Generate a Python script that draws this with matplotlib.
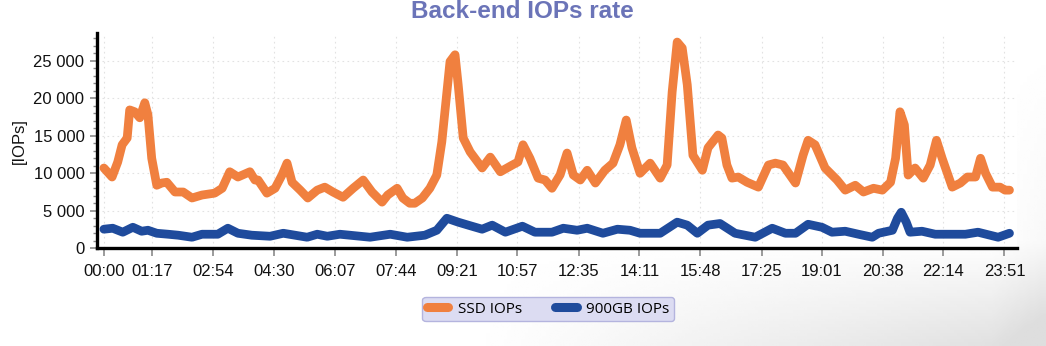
import numpy as np
import matplotlib
matplotlib.use("Agg")
import matplotlib.pyplot as plt
from matplotlib.ticker import FixedLocator, MultipleLocator, FuncFormatter

# minutes since midnight
ssd_minutes = [0, 13, 22, 29, 37, 41, 49, 57, 65, 70, 76, 84, 92, 100, 113, 126, 140,
               156, 176, 188, 200, 213, 232, 240, 245, 259, 272, 283, 291, 299, 312,
               324, 339, 351, 364, 380, 396, 412, 426, 442, 451, 466, 475, 486, 494,
               506, 518, 529, 537, 545, 550, 558, 563, 571, 582, 601, 614, 630, 649,
               658, 666, 677, 690, 701, 712, 725, 736, 746, 757, 768, 781, 796, 809,
               820, 830, 839, 852, 868, 884, 895, 903, 911, 919, 927, 936, 951, 960,
               976, 982, 990, 998, 1008, 1022, 1040, 1056, 1067, 1079, 1099, 1111,
               1119, 1130, 1146, 1165, 1178, 1194, 1207, 1223, 1237, 1250, 1258, 1265,
               1272, 1278, 1289, 1302, 1313, 1323, 1332, 1348, 1361, 1372, 1385, 1393,
               1401, 1412, 1424, 1432, 1439]
ssd_iops = [10700, 9500, 11500, 13800, 14700, 18450, 18200, 17400, 19400, 17800, 12000,
            8400, 8700, 8800, 7500, 7500, 6700, 7100, 7350, 8000, 10200, 9500, 10200,
            9100, 9100, 7350, 8000, 9760, 11350, 8800, 7750, 6700, 7750, 8150, 7500,
            6800, 8000, 9100, 7500, 6150, 7100, 8000, 6700, 6000, 6000, 6700, 8000,
            9760, 14200, 20850, 24900, 25800, 21800, 14700, 12850, 10700, 12150, 10200,
            11100, 11500, 13800, 12000, 9350, 9100, 8000, 9800, 12700, 9760, 9100,
            10400, 8700, 10400, 11350, 13800, 17100, 13400, 10000, 11350, 9350, 11100,
            20850, 27500, 26700, 21800, 12400, 10400, 13400, 15100, 14700, 11100, 9350,
            9500, 8800, 8150, 11100, 11350, 11100, 8700, 12400, 14400, 13800, 10700,
            9100, 7750, 8400, 7500, 8000, 7750, 8800, 12000, 18200, 16450, 9760, 10700,
            9350, 11100, 14400, 12000, 8150, 8700, 9500, 9500, 12000, 10000, 8150, 8150,
            7750, 7750]

hdd_minutes = [0, 14, 30, 46, 60, 70, 84, 102, 118, 140, 156, 181, 197, 213, 235, 264,
               285, 323, 339, 355, 375, 423, 455, 482, 510, 529, 545, 563, 579, 601,
               617, 638, 665, 685, 712, 730, 752, 768, 793, 816, 836, 852, 884, 911,
               927, 943, 960, 979, 1003, 1035, 1062, 1083, 1099, 1119, 1141, 1157,
               1178, 1199, 1221, 1231, 1253, 1261, 1267, 1275, 1281, 1300, 1321, 1369,
               1389, 1421, 1439]
hdd_iops = [2540, 2670, 2140, 2800, 2270, 2400, 2000, 1870, 1740, 1470, 1870, 1870,
            2670, 2000, 1740, 1600, 2000, 1470, 1870, 1600, 1870, 1470, 1870, 1470,
            1740, 2400, 4000, 3480, 3080, 2540, 3080, 2140, 2940, 2140, 2140, 2670,
            2400, 2670, 2000, 2540, 2400, 2000, 2000, 3480, 3080, 2000, 3080, 3300,
            2000, 1470, 2670, 2000, 2000, 3200, 2800, 2140, 2270, 1870, 1470, 2000,
            2400, 4000, 4800, 3480, 2140, 2270, 1870, 1870, 2140, 1470, 2000]

tick_labels = ["00:00", "01:17", "02:54", "04:30", "06:07", "07:44", "09:21", "10:57",
               "12:35", "14:11", "15:48", "17:25", "19:01", "20:38", "22:14", "23:51"]
tick_minutes = [int(t[:2]) * 60 + int(t[3:]) for t in tick_labels]

ORANGE = "#f0803f"
BLUE = "#1f4b9c"
TITLE_COLOR = "#6b74b8"

plt.rcParams["font.family"] = ["Liberation Sans", "DejaVu Sans"]

fig = plt.figure(figsize=(10.46, 3.46), dpi=100)

# soft slide-like grey gradient in the background
bg = fig.add_axes([0, 0, 1, 1], zorder=-5)
xx, yy = np.meshgrid(np.linspace(0, 1, 300), np.linspace(1, 0, 120))
shade = np.clip((xx - 0.45) / 0.55, 0, 1) * np.clip((0.3 - yy) / 0.3, 0, 1)
shade += 0.3 * np.clip((xx - 0.95) / 0.05, 0, 1) * np.clip((0.9 - yy) / 0.9, 0, 1)
bg.imshow(1 - 0.13 * np.clip(shade, 0, 1), cmap="gray", vmin=0, vmax=1,
          aspect="auto", extent=[0, 1, 0, 1], interpolation="bilinear")
bg.axis("off")

ax = fig.add_axes([0.0927, 0.2825, 0.8796, 0.622])
ax.set_facecolor("white")

ax.plot(ssd_minutes, ssd_iops, color=ORANGE, lw=6.3, solid_capstyle="round",
        solid_joinstyle="round", label="SSD IOPs", zorder=3)
ax.plot(hdd_minutes, hdd_iops, color=BLUE, lw=6.3, solid_capstyle="round",
        solid_joinstyle="round", label="900GB IOPs", zorder=3)

ax.set_xlim(-11, 1451)
ax.set_ylim(0, 28700)

ax.xaxis.set_major_locator(FixedLocator(tick_minutes))
ax.set_xticklabels(tick_labels)
ax.yaxis.set_major_locator(MultipleLocator(5000))
ax.yaxis.set_minor_locator(MultipleLocator(1000))
ax.yaxis.set_major_formatter(FuncFormatter(lambda v, p: f"{int(v):,}".replace(",", " ")))

ax.grid(True, which="major", color="#e2e2e2", linestyle=(0, (1.5, 3)), linewidth=0.8)
ax.set_axisbelow(True)

for side in ["top", "right"]:
    ax.spines[side].set_visible(False)
for side in ["left", "bottom"]:
    ax.spines[side].set_linewidth(2.4)
    ax.spines[side].set_color("black")

ax.tick_params(axis="both", which="major", colors="#8a8a8a", length=5, width=1.2,
               labelsize=12, labelcolor="#111111", pad=4)
ax.tick_params(axis="y", which="minor", colors="#8a8a8a", length=3, width=1)
ax.tick_params(axis="x", which="major", length=6, pad=5)

ax.set_ylabel("[IOPs]", fontsize=12, labelpad=5, color="#111111")

fig.text(0.499, 0.966, "Back-end IOPs rate", ha="center", va="center",
         fontsize=17.5, fontweight="bold", color=TITLE_COLOR)

leg = fig.legend(loc="center", bbox_to_anchor=(0.524, 0.106), ncol=2,
                 prop={"family": "Open Sans", "size": 11}, handlelength=1.4,
                 handletextpad=0.6, columnspacing=2.2, borderpad=0.3,
                 borderaxespad=0, frameon=True, fancybox=True)
leg.get_frame().set_facecolor("#dcdcf2")
leg.get_frame().set_edgecolor("#b4b4de")
leg.get_frame().set_alpha(1)
leg.get_frame().set_linewidth(1)
for line in leg.get_lines():
    line.set_linewidth(6.5)
    line.set_solid_capstyle("round")

fig.savefig("out.png", dpi=100)
